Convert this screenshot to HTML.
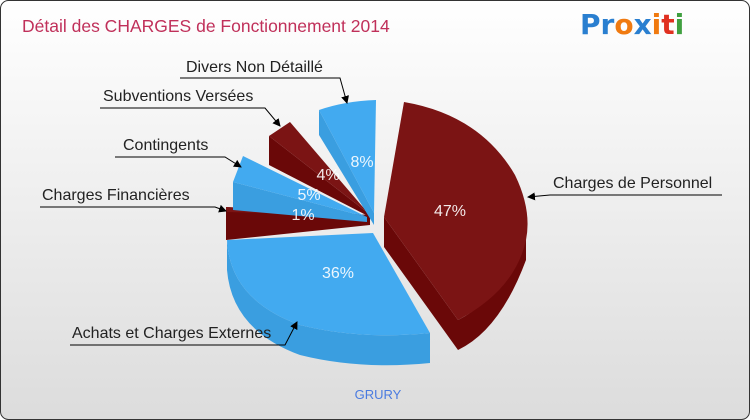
<!DOCTYPE html><html><head><style>body{margin:0}svg{display:block}</style></head><body>
<svg width="750" height="420" xmlns="http://www.w3.org/2000/svg" font-family="Liberation Sans, sans-serif">
<defs><linearGradient id="bg" x1="0" y1="0" x2="0" y2="1"><stop offset="0" stop-color="#ffffff"/><stop offset="1" stop-color="#dcdcdc"/></linearGradient>
<marker id="ar" markerWidth="8" markerHeight="8" refX="7" refY="4" orient="auto"><path d="M0,0L8,4L0,8z" fill="#000"/></marker></defs>
<rect x="0.5" y="0.5" width="749" height="419" rx="8" fill="url(#bg)" stroke="#333"/>
<text x="22" y="32" font-size="17.5" fill="#c0305a">Détail des CHARGES de Fonctionnement 2014</text>
<text x="580" y="34" font-size="28" font-weight="bold" fill="#2a7fd0" font-family="DejaVu Sans, sans-serif">P<tspan fill="#2a7fd0">r</tspan><tspan fill="#f07a10">o</tspan><tspan fill="#2a7fd0">x</tspan><tspan fill="#f07a10">i</tspan><tspan fill="#e03020">t</tspan><tspan fill="#40a040">i</tspan></text>
<!-- 47% -->
<path d="M384,217 L458,320 L458,350 L384,247z" fill="#6a0808"/>
<path d="M458,320 Q500,300 526,230 L526,260 Q500,330 458,350z" fill="#6a0808"/>
<path d="M384,217 L404,102 Q480,115 515,175 Q532,210 526,240 Q515,290 458,320z" fill="#7b1414"/>
<!-- 36% -->
<path d="M227,240 Q230,300 300,325 Q360,340 430,333 L430,363 Q360,370 300,355 Q232,330 227,270z" fill="#3a9ee0"/>
<path d="M373,233 L227,240 Q230,300 300,325 Q360,340 430,333z" fill="#42aaf0"/>
<!-- 1% -->
<path d="M226,207 L370,215 L370,225 L226,240z" fill="#6a0808"/>
<path d="M226,207 L370,215 L226,212z" fill="#7b1414"/>
<!-- 5% -->
<path d="M233,182 L233,210 L367,222 L367,217z" fill="#3a9ee0"/>
<path d="M367,217 L233,182 L243,156z" fill="#42aaf0"/>
<!-- 4% -->
<path d="M269,136 L269,165 L368,216 L368,213z" fill="#6a0808"/>
<path d="M368,213 L269,136 L290,122z" fill="#7b1414"/>
<!-- 8% -->
<path d="M319,110 L374,213 L374,225 L319,135z" fill="#3a9ee0"/>
<path d="M374,213 L319,110 Q345,101 376,100z" fill="#42aaf0"/>
<g fill="#fff" font-size="16" text-anchor="middle" opacity="0.9">
<text x="450" y="216">47%</text><text x="338" y="278">36%</text><text x="303" y="220">1%</text><text x="309" y="200">5%</text><text x="328" y="180">4%</text><text x="362" y="167">8%</text></g>
<g stroke="#000" fill="none" stroke-width="1">
<path d="M722,195 L550,195 L528,197" marker-end="url(#ar)"/>
<path d="M70,345 L285,345 L297,322" marker-end="url(#ar)"/>
<path d="M40,207 L215,207 L226,211" marker-end="url(#ar)"/>
<path d="M115,157 L225,157 L241,167" marker-end="url(#ar)"/>
<path d="M100,108 L265,108 L280,126" marker-end="url(#ar)"/>
<path d="M180,78 L340,78 L347,103" marker-end="url(#ar)"/>
</g>
<g font-size="16" fill="#222">
<text x="553" y="188">Charges de Personnel</text>
<text x="72" y="338">Achats et Charges Externes</text>
<text x="42" y="200">Charges Financières</text>
<text x="123" y="150">Contingents</text>
<text x="103" y="101">Subventions Versées</text>
<text x="186" y="72">Divers Non Détaillé</text></g>
<text x="378" y="399" font-size="13" fill="#4a7be0" text-anchor="middle">GRURY</text>
</svg></body></html>
